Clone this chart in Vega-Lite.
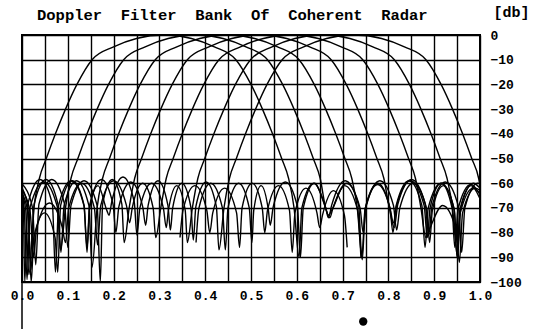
{
"$schema": "https://vega.github.io/schema/vega-lite/v6.json",
"width": 458, "height": 247,
"autosize": {"type": "none"},
"padding": {"left": 22, "top": 35, "right": 59, "bottom": 50},
"background": "white",
"config": {"view": {"stroke": "black", "strokeWidth": 2}, "font": "Liberation Mono"},
"title": {"text": "Doppler\u00a0 Filter\u00a0 Bank\u00a0 Of\u00a0 Coherent\u00a0 Radar", "anchor": "start", "frame": "group", "dx": 15, "dy": 29, "offset": 10, "font": "Liberation Mono", "fontSize": 15.5, "fontWeight": "bold", "color": "black"},
"resolve": {"axis": {"x": "independent", "y": "independent"}},
"datasets": {
"curves": [
{"f":1,"x":0,"y":-64.6},{"f":1,"x":0.008,"y":-70.5},{"f":1,"x":0.015,"y":-97},{"f":1,"x":0.026,"y":-70},{"f":1,"x":0.038,"y":-58},{"f":1,"x":0.053,"y":-50},{"f":1,"x":0.073,"y":-40},{"f":1,"x":0.095,"y":-30},{"f":1,"x":0.12,"y":-20},{"f":1,"x":0.153,"y":-10},{"f":1,"x":0.2,"y":-4.8},{"f":1,"x":0.25,"y":-1.4},{"f":1,"x":0.31,"y":0},{"f":1,"x":0.37,"y":-1.4},{"f":1,"x":0.42,"y":-4.8},{"f":1,"x":0.467,"y":-10},{"f":1,"x":0.5,"y":-20},{"f":1,"x":0.525,"y":-30},{"f":1,"x":0.547,"y":-40},{"f":1,"x":0.567,"y":-50},{"f":1,"x":0.582,"y":-58},{"f":1,"x":0.594,"y":-70},{"f":1,"x":0.605,"y":-90},{"f":1,"x":0.611,"y":-70},{"f":1,"x":0.637,"y":-60},{"f":1,"x":0.663,"y":-70},{"f":1,"x":0.669,"y":-74},{"f":1,"x":0.676,"y":-69},{"f":1,"x":0.7055,"y":-59},{"f":1,"x":0.735,"y":-69},{"f":1,"x":0.742,"y":-90},{"f":1,"x":0.749,"y":-70.5},{"f":1,"x":0.7765,"y":-60.5},{"f":1,"x":0.804,"y":-70.5},{"f":1,"x":0.811,"y":-76},{"f":1,"x":0.818,"y":-69},{"f":1,"x":0.848,"y":-59},{"f":1,"x":0.878,"y":-69},{"f":1,"x":0.885,"y":-82},{"f":1,"x":0.891,"y":-70},{"f":1,"x":0.915,"y":-60},{"f":1,"x":0.939,"y":-70},{"f":1,"x":0.945,"y":-86},{"f":1,"x":0.952,"y":-70.5},{"f":1,"x":0.98,"y":-60.5},{"f":1,"x":1,"y":-64.6},
{"f":2,"x":0,"y":-66.3},{"f":2,"x":0.005,"y":-71},{"f":2,"x":0.011,"y":-99},{"f":2,"x":0.018,"y":-69.5},{"f":2,"x":0.0475,"y":-59.5},{"f":2,"x":0.077,"y":-69.5},{"f":2,"x":0.084,"y":-87},{"f":2,"x":0.095,"y":-70},{"f":2,"x":0.107,"y":-58},{"f":2,"x":0.122,"y":-50},{"f":2,"x":0.142,"y":-40},{"f":2,"x":0.164,"y":-30},{"f":2,"x":0.189,"y":-20},{"f":2,"x":0.222,"y":-10},{"f":2,"x":0.269,"y":-4.8},{"f":2,"x":0.319,"y":-1.4},{"f":2,"x":0.379,"y":0},{"f":2,"x":0.439,"y":-1.4},{"f":2,"x":0.489,"y":-4.8},{"f":2,"x":0.536,"y":-10},{"f":2,"x":0.569,"y":-20},{"f":2,"x":0.594,"y":-30},{"f":2,"x":0.616,"y":-40},{"f":2,"x":0.636,"y":-50},{"f":2,"x":0.651,"y":-58},{"f":2,"x":0.663,"y":-70},{"f":2,"x":0.672,"y":-74},{"f":2,"x":0.679,"y":-70},{"f":2,"x":0.7085,"y":-60},{"f":2,"x":0.738,"y":-70},{"f":2,"x":0.745,"y":-80},{"f":2,"x":0.752,"y":-69},{"f":2,"x":0.7815,"y":-59},{"f":2,"x":0.811,"y":-69},{"f":2,"x":0.818,"y":-79},{"f":2,"x":0.825,"y":-70},{"f":2,"x":0.854,"y":-60},{"f":2,"x":0.883,"y":-70},{"f":2,"x":0.89,"y":-84},{"f":2,"x":0.896,"y":-71},{"f":2,"x":0.92,"y":-61},{"f":2,"x":0.944,"y":-71},{"f":2,"x":0.95,"y":-90},{"f":2,"x":0.956,"y":-71},{"f":2,"x":0.9805,"y":-61},{"f":2,"x":1,"y":-66.3},
{"f":3,"x":0,"y":-64.1},{"f":3,"x":0.013,"y":-72},{"f":3,"x":0.02,"y":-95},{"f":3,"x":0.0265,"y":-68.5},{"f":3,"x":0.0525,"y":-58.5},{"f":3,"x":0.0785,"y":-68.5},{"f":3,"x":0.085,"y":-88},{"f":3,"x":0.092,"y":-69},{"f":3,"x":0.119,"y":-59},{"f":3,"x":0.146,"y":-69},{"f":3,"x":0.153,"y":-94},{"f":3,"x":0.164,"y":-70},{"f":3,"x":0.176,"y":-58},{"f":3,"x":0.191,"y":-50},{"f":3,"x":0.211,"y":-40},{"f":3,"x":0.233,"y":-30},{"f":3,"x":0.258,"y":-20},{"f":3,"x":0.291,"y":-10},{"f":3,"x":0.338,"y":-4.8},{"f":3,"x":0.388,"y":-1.4},{"f":3,"x":0.448,"y":0},{"f":3,"x":0.508,"y":-1.4},{"f":3,"x":0.558,"y":-4.8},{"f":3,"x":0.605,"y":-10},{"f":3,"x":0.638,"y":-20},{"f":3,"x":0.663,"y":-30},{"f":3,"x":0.685,"y":-40},{"f":3,"x":0.705,"y":-50},{"f":3,"x":0.72,"y":-58},{"f":3,"x":0.732,"y":-70},{"f":3,"x":0.743,"y":-91},{"f":3,"x":0.7497,"y":-70},{"f":3,"x":0.7765,"y":-60},{"f":3,"x":0.8033,"y":-70},{"f":3,"x":0.81,"y":-80},{"f":3,"x":0.817,"y":-69},{"f":3,"x":0.845,"y":-59},{"f":3,"x":0.873,"y":-69},{"f":3,"x":0.88,"y":-86},{"f":3,"x":0.887,"y":-70},{"f":3,"x":0.915,"y":-60},{"f":3,"x":0.943,"y":-70},{"f":3,"x":0.95,"y":-84},{"f":3,"x":0.957,"y":-72},{"f":3,"x":0.985,"y":-62},{"f":3,"x":1,"y":-64.1},
{"f":4,"x":0,"y":-60.2},{"f":4,"x":0.023,"y":-70},{"f":4,"x":0.03,"y":-93},{"f":4,"x":0.037,"y":-68.5},{"f":4,"x":0.065,"y":-58.5},{"f":4,"x":0.093,"y":-68.5},{"f":4,"x":0.1,"y":-86},{"f":4,"x":0.107,"y":-69},{"f":4,"x":0.1355,"y":-59},{"f":4,"x":0.164,"y":-69},{"f":4,"x":0.171,"y":-100},{"f":4,"x":0.176,"y":-68.5},{"f":4,"x":0.197,"y":-58.5},{"f":4,"x":0.218,"y":-68.5},{"f":4,"x":0.223,"y":-84},{"f":4,"x":0.234,"y":-70},{"f":4,"x":0.246,"y":-58},{"f":4,"x":0.261,"y":-50},{"f":4,"x":0.281,"y":-40},{"f":4,"x":0.303,"y":-30},{"f":4,"x":0.328,"y":-20},{"f":4,"x":0.361,"y":-10},{"f":4,"x":0.408,"y":-4.8},{"f":4,"x":0.458,"y":-1.4},{"f":4,"x":0.518,"y":0},{"f":4,"x":0.578,"y":-1.4},{"f":4,"x":0.628,"y":-4.8},{"f":4,"x":0.675,"y":-10},{"f":4,"x":0.708,"y":-20},{"f":4,"x":0.733,"y":-30},{"f":4,"x":0.755,"y":-40},{"f":4,"x":0.775,"y":-50},{"f":4,"x":0.79,"y":-58},{"f":4,"x":0.802,"y":-70},{"f":4,"x":0.813,"y":-78},{"f":4,"x":0.8205,"y":-68.5},{"f":4,"x":0.8505,"y":-58.5},{"f":4,"x":0.8805,"y":-68.5},{"f":4,"x":0.888,"y":-81},{"f":4,"x":0.895,"y":-69.5},{"f":4,"x":0.924,"y":-59.5},{"f":4,"x":0.953,"y":-69.5},{"f":4,"x":0.96,"y":-88},{"f":4,"x":0.967,"y":-70},{"f":4,"x":0.995,"y":-60},{"f":4,"x":1,"y":-60.2},
{"f":5,"x":0,"y":-62.9},{"f":5,"x":0.018,"y":-72},{"f":5,"x":0.025,"y":-90},{"f":5,"x":0.032,"y":-78},{"f":5,"x":0.06,"y":-68},{"f":5,"x":0.088,"y":-78},{"f":5,"x":0.095,"y":-84},{"f":5,"x":0.102,"y":-70},{"f":5,"x":0.13,"y":-60},{"f":5,"x":0.158,"y":-70},{"f":5,"x":0.165,"y":-85},{"f":5,"x":0.172,"y":-69},{"f":5,"x":0.2,"y":-59},{"f":5,"x":0.228,"y":-69},{"f":5,"x":0.235,"y":-76},{"f":5,"x":0.2407,"y":-70},{"f":5,"x":0.2635,"y":-60},{"f":5,"x":0.2863,"y":-70},{"f":5,"x":0.292,"y":-82},{"f":5,"x":0.303,"y":-70},{"f":5,"x":0.315,"y":-58},{"f":5,"x":0.33,"y":-50},{"f":5,"x":0.35,"y":-40},{"f":5,"x":0.372,"y":-30},{"f":5,"x":0.397,"y":-20},{"f":5,"x":0.43,"y":-10},{"f":5,"x":0.477,"y":-4.8},{"f":5,"x":0.527,"y":-1.4},{"f":5,"x":0.587,"y":0},{"f":5,"x":0.647,"y":-1.4},{"f":5,"x":0.697,"y":-4.8},{"f":5,"x":0.744,"y":-10},{"f":5,"x":0.777,"y":-20},{"f":5,"x":0.802,"y":-30},{"f":5,"x":0.824,"y":-40},{"f":5,"x":0.844,"y":-50},{"f":5,"x":0.859,"y":-58},{"f":5,"x":0.871,"y":-70},{"f":5,"x":0.882,"y":-82},{"f":5,"x":0.889,"y":-79},{"f":5,"x":0.9185,"y":-69},{"f":5,"x":0.948,"y":-79},{"f":5,"x":0.955,"y":-92},{"f":5,"x":0.962,"y":-72},{"f":5,"x":0.99,"y":-62},{"f":5,"x":1,"y":-62.9},
{"f":6,"x":0,"y":-62},{"f":6,"x":0.013,"y":-70},{"f":6,"x":0.02,"y":-100},{"f":6,"x":0.0258,"y":-82},{"f":6,"x":0.049,"y":-72},{"f":6,"x":0.0722,"y":-82},{"f":6,"x":0.078,"y":-96},{"f":6,"x":0.0844,"y":-69},{"f":6,"x":0.11,"y":-59},{"f":6,"x":0.1356,"y":-69},{"f":6,"x":0.142,"y":-88},{"f":6,"x":0.1468,"y":-71},{"f":6,"x":0.166,"y":-61},{"f":6,"x":0.1852,"y":-71},{"f":6,"x":0.19,"y":-73},{"f":6,"x":0.196,"y":-67.5},{"f":6,"x":0.2205,"y":-57.5},{"f":6,"x":0.245,"y":-67.5},{"f":6,"x":0.251,"y":-81},{"f":6,"x":0.2574,"y":-70},{"f":6,"x":0.283,"y":-60},{"f":6,"x":0.3086,"y":-70},{"f":6,"x":0.315,"y":-78},{"f":6,"x":0.3196,"y":-71},{"f":6,"x":0.338,"y":-61},{"f":6,"x":0.3564,"y":-71},{"f":6,"x":0.361,"y":-84},{"f":6,"x":0.372,"y":-70},{"f":6,"x":0.384,"y":-58},{"f":6,"x":0.399,"y":-50},{"f":6,"x":0.419,"y":-40},{"f":6,"x":0.441,"y":-30},{"f":6,"x":0.466,"y":-20},{"f":6,"x":0.499,"y":-10},{"f":6,"x":0.546,"y":-4.8},{"f":6,"x":0.596,"y":-1.4},{"f":6,"x":0.656,"y":0},{"f":6,"x":0.716,"y":-1.4},{"f":6,"x":0.766,"y":-4.8},{"f":6,"x":0.813,"y":-10},{"f":6,"x":0.846,"y":-20},{"f":6,"x":0.871,"y":-30},{"f":6,"x":0.893,"y":-40},{"f":6,"x":0.913,"y":-50},{"f":6,"x":0.928,"y":-58},{"f":6,"x":0.94,"y":-70},{"f":6,"x":0.951,"y":-90},{"f":6,"x":0.958,"y":-70},{"f":6,"x":0.9855,"y":-60},{"f":6,"x":1,"y":-62},
{"f":7,"x":0,"y":-61},{"f":7,"x":0.003,"y":-68},{"f":7,"x":0.006,"y":-100},{"f":7,"x":0.0127,"y":-68.5},{"f":7,"x":0.0395,"y":-58.5},{"f":7,"x":0.0663,"y":-68.5},{"f":7,"x":0.073,"y":-96},{"f":7,"x":0.0799,"y":-69},{"f":7,"x":0.1075,"y":-59},{"f":7,"x":0.1351,"y":-69},{"f":7,"x":0.142,"y":-86},{"f":7,"x":0.1483,"y":-68.5},{"f":7,"x":0.1735,"y":-58.5},{"f":7,"x":0.1987,"y":-68.5},{"f":7,"x":0.205,"y":-80},{"f":7,"x":0.2115,"y":-69.5},{"f":7,"x":0.2375,"y":-59.5},{"f":7,"x":0.2635,"y":-69.5},{"f":7,"x":0.27,"y":-77},{"f":7,"x":0.2754,"y":-69},{"f":7,"x":0.297,"y":-59},{"f":7,"x":0.3186,"y":-69},{"f":7,"x":0.324,"y":-79},{"f":7,"x":0.329,"y":-70},{"f":7,"x":0.349,"y":-60},{"f":7,"x":0.369,"y":-70},{"f":7,"x":0.374,"y":-83},{"f":7,"x":0.3796,"y":-69.5},{"f":7,"x":0.402,"y":-59.5},{"f":7,"x":0.4244,"y":-69.5},{"f":7,"x":0.43,"y":-87},{"f":7,"x":0.441,"y":-70},{"f":7,"x":0.453,"y":-58},{"f":7,"x":0.468,"y":-50},{"f":7,"x":0.488,"y":-40},{"f":7,"x":0.51,"y":-30},{"f":7,"x":0.535,"y":-20},{"f":7,"x":0.568,"y":-10},{"f":7,"x":0.615,"y":-4.8},{"f":7,"x":0.665,"y":-1.4},{"f":7,"x":0.725,"y":0},{"f":7,"x":0.785,"y":-1.4},{"f":7,"x":0.835,"y":-4.8},{"f":7,"x":0.882,"y":-10},{"f":7,"x":0.915,"y":-20},{"f":7,"x":0.94,"y":-30},{"f":7,"x":0.962,"y":-40},{"f":7,"x":0.982,"y":-50},{"f":7,"x":0.997,"y":-58},{"f":7,"x":1,"y":-61},
{"f":8,"x":0.38,"y":-84},{"f":8,"x":0.3864,"y":-70},{"f":8,"x":0.412,"y":-60},{"f":8,"x":0.4376,"y":-70},{"f":8,"x":0.444,"y":-87},{"f":8,"x":0.4498,"y":-70},{"f":8,"x":0.473,"y":-60},{"f":8,"x":0.4962,"y":-70},{"f":8,"x":0.502,"y":-84},{"f":8,"x":0.506,"y":-71},{"f":8,"x":0.522,"y":-61},{"f":8,"x":0.538,"y":-71},{"f":8,"x":0.542,"y":-77},{"f":8,"x":0.5486,"y":-69.5},{"f":8,"x":0.575,"y":-59.5},{"f":8,"x":0.6014,"y":-69.5},{"f":8,"x":0.608,"y":-90},{"f":8,"x":0.6141,"y":-70},{"f":8,"x":0.6385,"y":-60},{"f":8,"x":0.6629,"y":-70},{"f":8,"x":0.669,"y":-73},{"f":8,"x":0.6761,"y":-71},{"f":8,"x":0.7045,"y":-61},{"f":8,"x":0.7329,"y":-71},{"f":8,"x":0.74,"y":-90},
{"f":9,"x":0.345,"y":-82},{"f":9,"x":0.3515,"y":-71},{"f":9,"x":0.3775,"y":-61},{"f":9,"x":0.4035,"y":-71},{"f":9,"x":0.41,"y":-80},{"f":9,"x":0.4165,"y":-72},{"f":9,"x":0.4425,"y":-62},{"f":9,"x":0.4685,"y":-72},{"f":9,"x":0.475,"y":-86},{"f":9,"x":0.4805,"y":-70},{"f":9,"x":0.5025,"y":-60},{"f":9,"x":0.5245,"y":-70},{"f":9,"x":0.53,"y":-80},{"f":9,"x":0.536,"y":-71},{"f":9,"x":0.56,"y":-61},{"f":9,"x":0.584,"y":-71},{"f":9,"x":0.59,"y":-88},{"f":9,"x":0.596,"y":-72},{"f":9,"x":0.62,"y":-62},{"f":9,"x":0.644,"y":-72},{"f":9,"x":0.65,"y":-78},{"f":9,"x":0.656,"y":-73},{"f":9,"x":0.68,"y":-63},{"f":9,"x":0.704,"y":-73},{"f":9,"x":0.71,"y":-86}
]
},
"layer": [
{
"data": {"name": "curves"},
"mark": {"type": "line", "interpolate": "monotone", "color": "black", "strokeWidth": 1.4, "clip": true},
"encoding": {
"x": {"field": "x", "type": "quantitative", "scale": {"domain": [0, 1], "nice": false},
"axis": {"title": null, "values": [0,0.05,0.1,0.15,0.2,0.25,0.3,0.35,0.4,0.45,0.5,0.55,0.6,0.65,0.7,0.75,0.8,0.85,0.9,0.95,1], "grid": true, "gridColor": "black", "gridWidth": 1.4, "gridOpacity": 1, "domain": false, "ticks": false, "tickSize": 0, "labelExpr": "round(datum.value*20) % 2 == 0 ? format(datum.value, '.1f') : ''", "labelFont": "Liberation Mono", "labelFontSize": 13, "labelFontWeight": "bold", "labelColor": "black", "labelPadding": 7, "labelFlush": false, "labelOverlap": false}},
"y": {"field": "y", "type": "quantitative", "scale": {"domain": [-100, 0], "nice": false, "zero": false},
"axis": {"orient": "right", "values": [-100,-90,-80,-70,-60,-50,-40,-30,-20,-10,0], "grid": true, "gridColor": "black", "gridWidth": 1.4, "gridOpacity": 1, "domain": false, "ticks": false, "tickSize": 0, "labelFont": "Liberation Mono", "labelFontSize": 13, "labelFontWeight": "bold", "labelColor": "black", "labelPadding": 10, "labelAlign": "left", "labelFlush": false, "labelOverlap": false, "title": "[db]", "titleAngle": 0, "titleX": 13, "titleY": -19, "titleAlign": "left", "titleBaseline": "alphabetic", "titleFont": "Liberation Mono", "titleFontSize": 15, "titleFontWeight": "bold", "titleColor": "black"}},
"detail": {"field": "f"}
}
},
{
"data": {"values": [{"x": 0, "y": -119, "y2": 0}]},
"mark": {"type": "rule", "color": "black", "strokeWidth": 1.5},
"encoding": {"x": {"field": "x", "type": "quantitative", "axis": null}, "y": {"field": "y", "type": "quantitative", "axis": null}, "y2": {"field": "y2"}}
},
{
"data": {"values": [{"x": 0.745, "y": -116}]},
"mark": {"type": "point", "filled": true, "color": "black", "size": 70, "opacity": 1},
"encoding": {"x": {"field": "x", "type": "quantitative", "axis": null}, "y": {"field": "y", "type": "quantitative", "axis": null}}
}
]
}
